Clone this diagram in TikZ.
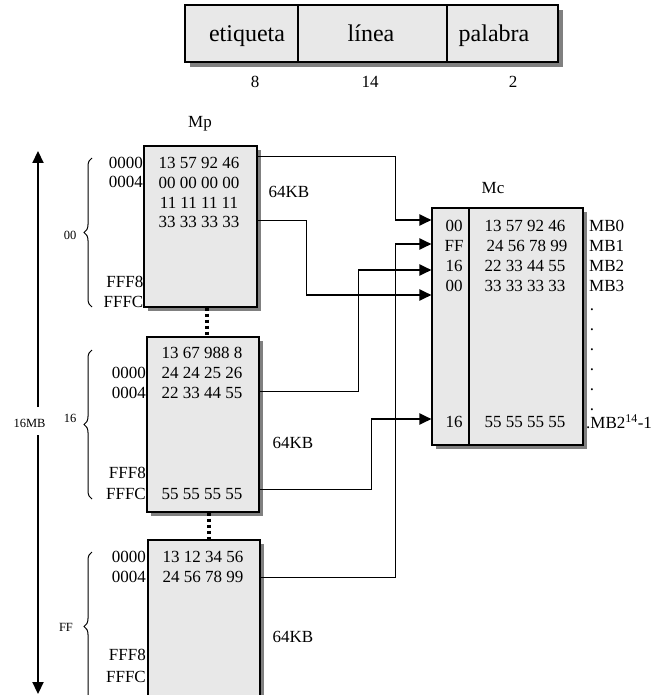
\documentclass[tikz,border=0pt]{standalone}
\usepackage{fontspec}
\setmainfont{Liberation Serif}
\usetikzlibrary{arrows.meta,decorations.pathreplacing,shadows}
\definecolor{boxfill}{HTML}{E8E8E8}
\definecolor{shade}{HTML}{808080}
\begin{document}
\begin{tikzpicture}[x=1pt,y=-1pt,
 box/.style={draw, line width=1.1pt, fill=boxfill, inner sep=0pt,
   drop shadow={shadow xshift=4pt, shadow yshift=-4pt, fill=shade, opacity=1}},
 topbox/.style={draw, line width=1.1pt, fill=boxfill, inner sep=0pt,
   drop shadow={shadow xshift=5pt, shadow yshift=-5pt, fill=shade, opacity=1}},
 txt/.style={font=\fontsize{17}{20}\selectfont, inner sep=0pt},
 small/.style={font=\fontsize{12.5}{14}\selectfont, inner sep=0pt},
 big/.style={font=\fontsize{24}{28}\selectfont, inner sep=0pt},
 conn/.style={line width=1pt},
 arr/.style={line width=2.2pt, -{Triangle[length=12pt,width=11pt]}},
 bigarr/.style={line width=2.2pt, -{Triangle[length=12pt,width=11pt]}},
 dotline/.style={line width=3.5pt, dash pattern=on 3.5pt off 2.5pt},
 bracestyle/.style={line width=1pt, decorate, decoration={brace, amplitude=8pt}},
]
\clip (0,0) rectangle (654,695);
\fill[white] (0,0) rectangle (654,695);

% top address format
\node[topbox, minimum width=113pt, minimum height=57pt] (f1) at (241.5,33.5) {};
\node[topbox, minimum width=149pt, minimum height=57pt] (f2) at (372.5,33.5) {};
\node[topbox, minimum width=111pt, minimum height=57pt] (f3) at (502.5,33.5) {};
\node[big, anchor=base] (t1) at (247,42) {etiqueta};
\node[big, anchor=base] (t2) at (371,42) {línea};
\node[big, anchor=base] (t3) at (494,42) {palabra};
\node[txt] (n1) at (255,82) {8};
\node[txt] (n2) at (370,82) {14};
\node[txt] (n3) at (513,82) {2};

% main memory blocks
\node[txt, anchor=base] (mp) at (200,128) {Mp};
\node[box, minimum width=113pt, minimum height=161pt] (b1) at (200.5,226.5) {};
\node[box, minimum width=112pt, minimum height=175pt] (b2) at (203,424.5) {};
\node[box, minimum width=112pt, minimum height=160pt] (b3) at (204,620) {};

\draw[dotline] ([xshift=6.5pt]b1.south) -- ([xshift=6.5pt]b1.south |- b2.north);
\draw[dotline] ([xshift=6pt]b2.south) -- ([xshift=6pt]b2.south |- b3.north);

% block 00
\node[txt] (r11) at (199,163) {13 57 92 46};
\node[txt] (r12) at (199,183) {00 00 00 00};
\node[txt] (r13) at (199,203) {11 11 11 11};
\node[txt] (r14) at (199,222) {33 33 33 33};
\node[txt, anchor=east] (a11) at (143,163) {0000};
\node[txt, anchor=east] (a12) at (143,182) {0004};
\node[txt, anchor=east] (a13) at (143.5,282) {FFF8};
\node[txt, anchor=east] (a14) at (143.5,302) {FFFC};
\node[txt] (k1) at (289,192) {64KB};

% block 16
\node[txt] (r21) at (202,353) {13 67 988 8};
\node[txt] (r22) at (202,373) {24 24 25 26};
\node[txt] (r23) at (202,393) {22 33 44 55};
\node[txt] (r24) at (202,494) {55 55 55 55};
\node[txt, anchor=east] (a21) at (146,373) {0000};
\node[txt, anchor=east] (a22) at (146,393) {0004};
\node[txt, anchor=east] (a23) at (146,473) {FFF8};
\node[txt, anchor=east] (a24) at (146,494) {FFFC};
\node[txt] (k2) at (293,443) {64KB};

% block FF
\node[txt] (r31) at (203,557) {13 12 34 56};
\node[txt] (r32) at (203,577) {24 56 78 99};
\node[txt, anchor=east] (a31) at (146,557) {0000};
\node[txt, anchor=east] (a32) at (146,577) {0004};
\node[txt, anchor=east] (a33) at (146,655) {FFF8};
\node[txt, anchor=east] (a34) at (146,677) {FFFC};
\node[txt] (k3) at (293,637) {64KB};

% braces
\draw[bracestyle] (92,307) -- (92,158);
\draw[bracestyle] (92,499) -- (92,350);
\draw[bracestyle] (92,701) -- (92,552);
\node[small] (l00) at (70,235) {00};
\node[small] (l16) at (70,418) {16};
\node[small] (lff) at (66,627) {FF};

% 16MB arrow
\node[small] (mb16) at (29.5,423) {16MB};
\coordinate (ua) at (38,407);
\coordinate (ub) at (38,151);
\coordinate (da) at (38,435);
\coordinate (db) at (38,694);
\draw[bigarr] (ua) -- (ub);
\draw[bigarr] (da) -- (db);

% cache
\node[txt, anchor=base] (mclab) at (493,193) {Mc};
\node[box, minimum width=151pt, minimum height=237pt] (mc) at (507.5,326.5) {};
\draw[line width=1.1pt] (mc.north -| 469,0) -- (mc.south -| 469,0);
\node[txt] (g1) at (454,226) {00};
\node[txt] (g2) at (454,246) {FF};
\node[txt] (g3) at (454,266) {16};
\node[txt] (g4) at (454,286) {00};
\node[txt] (g5) at (454,422) {16};
\node[txt] (d1) at (525,226) {13 57 92 46};
\node[txt] (d2) at (527,246) {24 56 78 99};
\node[txt] (d3) at (525,266) {22 33 44 55};
\node[txt] (d4) at (525,286) {33 33 33 33};
\node[txt] (d5) at (525,422) {55 55 55 55};
\node[txt, anchor=west] (m0) at (589,226) {MB0};
\node[txt, anchor=west] (m1) at (589,246) {MB1};
\node[txt, anchor=west] (m2) at (589,266) {MB2};
\node[txt, anchor=west] (m3) at (589,286) {MB3};
\foreach \yy in {310,330,350,370,390,410}
  \node[txt, anchor=base] at (592,\yy) {.};
\node[txt, anchor=west] (mlast) at (586,422) {.MB2\textsuperscript{14}-1};

% connectors
\coordinate (c1a) at (395,157);
\coordinate (c1b) at (395,220);
\draw[conn] (b1.east |- c1a) -- (c1a) -- (c1b);
\draw[arr] (c1b) -- (mc.west |- c1b);

\coordinate (c2a) at (306,220);
\coordinate (c2b) at (306,295);
\draw[conn] (b1.east |- c2a) -- (c2a) -- (c2b);
\draw[arr] (c2b) -- (mc.west |- c2b);

\coordinate (c3a) at (358,391);
\coordinate (c3b) at (358,270);
\draw[conn] (b2.east |- c3a) -- (c3a) -- (c3b);
\draw[arr] (c3b) -- (mc.west |- c3b);

\coordinate (c4a) at (371,489);
\coordinate (c4b) at (371,419);
\draw[conn] (b2.east |- c4a) -- (c4a) -- (c4b);
\draw[arr] (c4b) -- (mc.west |- c4b);

\coordinate (c5a) at (395,577);
\coordinate (c5b) at (395,244);
\draw[conn] (b3.east |- c5a) -- (c5a) -- (c5b);
\draw[arr] (c5b) -- (mc.west |- c5b);
\end{tikzpicture}
\end{document}
